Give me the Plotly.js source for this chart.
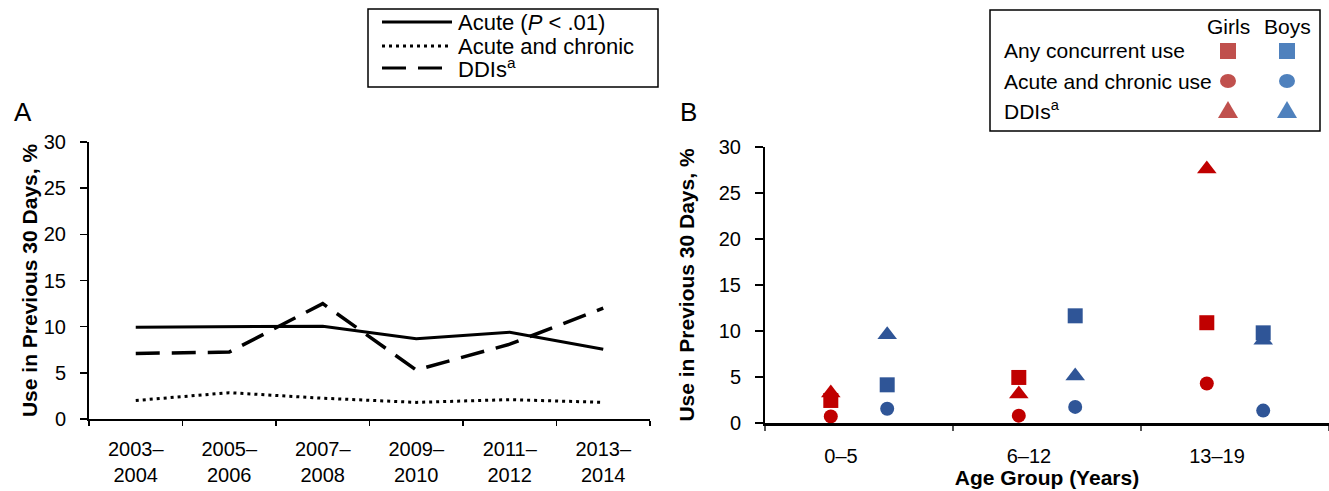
<!DOCTYPE html>
<html>
<head>
<meta charset="utf-8">
<script src="https://cdn.plot.ly/plotly-3.0.1.min.js"></script>
<style>html,body{margin:0;padding:0;background:#fff;}#chart{width:1329px;height:491px;}</style>
</head>
<body>
<div id="chart"></div>
<script>
// ---------- Panel A data ----------
const periods = ['2003–<br>2004', '2005–<br>2006', '2007–<br>2008', '2009–<br>2010', '2011–<br>2012', '2013–<br>2014'];
const acute = [9.95, 9.97, 10.05, 8.7, 9.4, 7.55];
const acuteChronic = [2.0, 2.85, 2.25, 1.8, 2.1, 1.8];
const ddisA = [7.1, 7.25, 12.5, 5.3, 8.1, 12.0];

// ---------- Panel B data ----------
const ageGroups = ['0–5', '6–12', '13–19'];
const girlsAny = [2.45, 4.95, 10.9];
const boysAny = [4.15, 11.65, 9.8];
const girlsAcuteChronic = [0.72, 0.8, 4.3];
const boysAcuteChronic = [1.55, 1.75, 1.35];
const girlsDDI = [3.25, 3.15, 27.6];
const boysDDI = [9.6, 5.1, 9.0];

const legendALabels = ['Acute (<i>P</i> &lt; .01)', 'Acute and chronic', 'DDIs<sup>a</sup>'];
const legendBRows = ['Any concurrent use', 'Acute and chronic use', 'DDIs<sup>a</sup>'];
const legendBCols = ['Girls', 'Boys'];

const W = 1329, H = 491;
const px = x => x / W;
const py = y => 1 - y / H;

const tickFont = {family: 'Liberation Sans, Arial, sans-serif', size: 20, color: '#000'};
const legAFont = {family: 'Liberation Sans, Arial, sans-serif', size: 22, color: '#000'};
const legBFont = {family: 'Liberation Sans, Arial, sans-serif', size: 21, color: '#000'};
const titleFont = {family: 'Liberation Sans, Arial, sans-serif', size: 21, color: '#000'};

const RED = '#C00000', BLUE = '#2F5597';
const RED_L = '#C0504D', BLUE_L = '#4F81BD';

const traces = [
  {x: periods, y: acute, type: 'scatter', mode: 'lines', offsetgroup: 'lines', line: {color: '#000', width: 3}, xaxis: 'x', yaxis: 'y', showlegend: false},
  {x: periods, y: acuteChronic, type: 'scatter', mode: 'lines', offsetgroup: 'lines', line: {color: '#000', width: 3, dash: '3px,4px'}, xaxis: 'x', yaxis: 'y', showlegend: false},
  {x: periods, y: ddisA, type: 'scatter', mode: 'lines', offsetgroup: 'lines', line: {color: '#000', width: 3.5, dash: '24px,12px'}, xaxis: 'x', yaxis: 'y', showlegend: false},
  // Panel B: triangles, then squares, then circles
  {x: ageGroups, y: girlsDDI, type: 'scatter', mode: 'markers', offsetgroup: 'girls', marker: {symbol: 'triangle-up', size: 17, color: RED}, xaxis: 'x2', yaxis: 'y2', showlegend: false},
  {x: ageGroups, y: boysDDI, type: 'scatter', mode: 'markers', offsetgroup: 'boys', marker: {symbol: 'triangle-up', size: 17, color: BLUE}, xaxis: 'x2', yaxis: 'y2', showlegend: false},
  {x: ageGroups, y: girlsAny, type: 'scatter', mode: 'markers', offsetgroup: 'girls', marker: {symbol: 'square', size: 15, color: RED}, xaxis: 'x2', yaxis: 'y2', showlegend: false},
  {x: ageGroups, y: boysAny, type: 'scatter', mode: 'markers', offsetgroup: 'boys', marker: {symbol: 'square', size: 15, color: BLUE}, xaxis: 'x2', yaxis: 'y2', showlegend: false},
  {x: ageGroups, y: girlsAcuteChronic, type: 'scatter', mode: 'markers', offsetgroup: 'girls', marker: {symbol: 'circle', size: 14, color: RED}, xaxis: 'x2', yaxis: 'y2', showlegend: false},
  {x: ageGroups, y: boysAcuteChronic, type: 'scatter', mode: 'markers', offsetgroup: 'boys', marker: {symbol: 'circle', size: 14, color: BLUE}, xaxis: 'x2', yaxis: 'y2', showlegend: false}
];

const shapes = [];
const annotations = [];

// Panel labels
annotations.push({text: 'A', x: px(23), y: py(112), xref: 'paper', yref: 'paper', xanchor: 'center', yanchor: 'middle', showarrow: false, font: {family: 'Liberation Sans, Arial', size: 26, color: '#000'}});
annotations.push({text: 'B', x: px(689), y: py(112), xref: 'paper', yref: 'paper', xanchor: 'center', yanchor: 'middle', showarrow: false, font: {family: 'Liberation Sans, Arial', size: 26, color: '#000'}});

// Legend A
shapes.push({type: 'rect', xref: 'paper', yref: 'paper', x0: px(368), x1: px(658), y0: py(9), y1: py(87), line: {color: '#000', width: 1.5}, fillcolor: '#fff'});
const legDash = ['solid', '3px,4px', '24px,12px'];
const legRowsY = [22, 46, 68];
legendALabels.forEach((t, i) => {
  shapes.push({type: 'line', xref: 'paper', yref: 'paper', x0: px(382), x1: px(452), y0: py(legRowsY[i]), y1: py(legRowsY[i]), line: {color: '#000', width: 3.2, dash: legDash[i]}});
  annotations.push({text: t, x: px(456), y: py(legRowsY[i]), xref: 'paper', yref: 'paper', xanchor: 'left', yanchor: 'middle', showarrow: false, font: legAFont});
});

// Legend B
shapes.push({type: 'rect', xref: 'paper', yref: 'paper', x0: px(990), x1: px(1320), y0: py(10), y1: py(131), line: {color: '#000', width: 1.5}, fillcolor: '#fff'});
const colX = [1228, 1287];
legendBCols.forEach((t, j) => {
  annotations.push({text: t, x: px(colX[j]), y: py(27), xref: 'paper', yref: 'paper', xanchor: 'center', yanchor: 'middle', showarrow: false, font: legBFont});
});
const rowBY = [51, 81, 110];
legendBRows.forEach((t, i) => {
  annotations.push({text: t, x: px(1002), y: py(rowBY[i]), xref: 'paper', yref: 'paper', xanchor: 'left', yanchor: 'middle', showarrow: false, font: legBFont});
});
[RED_L, BLUE_L].forEach((c, j) => {
  const cx = colX[j];
  shapes.push({type: 'rect', xref: 'paper', yref: 'paper', x0: px(cx - 8), x1: px(cx + 8), y0: py(rowBY[0] - 8), y1: py(rowBY[0] + 8), line: {width: 0}, fillcolor: c});
  shapes.push({type: 'circle', xref: 'paper', yref: 'paper', x0: px(cx - 8), x1: px(cx + 8), y0: py(rowBY[1] - 7), y1: py(rowBY[1] + 7), line: {width: 0}, fillcolor: c});
  const ty = rowBY[2];
  shapes.push({type: 'path', xref: 'paper', yref: 'paper', path: `M ${px(cx - 10)} ${py(ty + 8)} L ${px(cx + 10)} ${py(ty + 8)} L ${px(cx)} ${py(ty - 9)} Z`, line: {width: 0}, fillcolor: c});
});

const layout = {
  width: W, height: H,
  margin: {l: 0, r: 0, t: 0, b: 0},
  paper_bgcolor: '#fff', plot_bgcolor: 'rgba(0,0,0,0)',
  showlegend: false,
  scattermode: 'group',
  scattergap: 0.4,
  xaxis: {
    domain: [px(89), px(650)], anchor: 'y', type: 'category', range: [-0.5, 5.5],
    showline: true, linecolor: '#000', linewidth: 2, showgrid: false, zeroline: false,
    ticks: 'outside', tickson: 'boundaries', ticklen: 5, tickwidth: 1.5, tickcolor: '#000',
    tickfont: tickFont, ticklabelstandoff: 11, fixedrange: true
  },
  yaxis: {
    domain: [py(419), py(142)], anchor: 'x', range: [0, 30], dtick: 5, tick0: 0,
    showline: true, linecolor: '#000', linewidth: 2, showgrid: false, zeroline: false,
    ticks: 'outside', ticklen: 7, tickwidth: 1.5, tickcolor: '#000',
    tickfont: tickFont, ticklabelstandoff: 10,
    title: {text: '<b>Use in Previous 30 Days, %</b>', font: titleFont, standoff: 0}
  },
  xaxis2: {
    domain: [px(765), 1], anchor: 'y2', type: 'category', range: [-0.5, 2.5],
    showline: true, linecolor: '#000', linewidth: 2.5, showgrid: false, zeroline: false,
    ticks: 'outside', tickson: 'boundaries', ticklen: 5, tickwidth: 1.5, tickcolor: '#555',
    tickfont: tickFont, ticklabelstandoff: 13, ticklabelshift: -18,
    title: {text: '<b>Age Group (Years)</b>', font: titleFont, standoff: 4}
  },
  yaxis2: {
    domain: [py(423), py(147)], anchor: 'x2', range: [0, 30], dtick: 5, tick0: 0,
    showline: true, linecolor: '#000', linewidth: 2, showgrid: false, zeroline: false,
    ticks: 'outside', ticklen: 8, tickwidth: 1.5, tickcolor: '#000',
    tickfont: tickFont, ticklabelstandoff: 10,
    title: {text: '<b>Use in Previous 30 Days, %</b>', font: titleFont, standoff: 18}
  },
  shapes: shapes,
  annotations: annotations
};

Plotly.newPlot('chart', traces, layout, {displayModeBar: false, staticPlot: true});
</script>
</body>
</html>
